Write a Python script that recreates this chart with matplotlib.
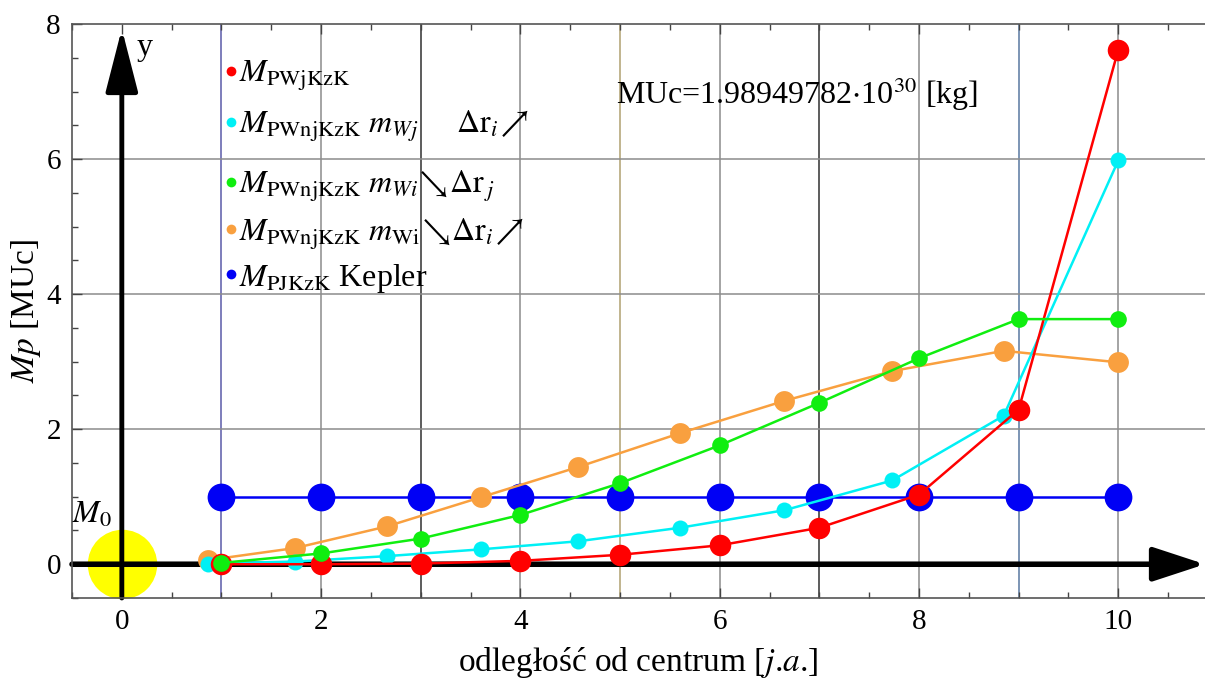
import matplotlib
matplotlib.use("Agg")
import matplotlib.pyplot as plt
from matplotlib.ticker import MultipleLocator

plt.rcParams['font.family'] = ['Liberation Serif', 'DejaVu Serif']
plt.rcParams['mathtext.fontset'] = 'stix'

# ---- data ----
x_int = [1, 2, 3, 4, 5, 6, 7, 8, 9, 10]
x_shift = [0.86, 1.74, 2.66, 3.60, 4.58, 5.60, 6.65, 7.73, 8.85, 10.0]

red_y = [0.0, 0.0, 0.01, 0.05, 0.14, 0.28, 0.54, 1.03, 2.29, 7.62]
cyan_y = [0.01, 0.04, 0.12, 0.22, 0.34, 0.54, 0.80, 1.24, 2.20, 5.98]
green_y = [0.02, 0.16, 0.38, 0.73, 1.20, 1.76, 2.39, 3.05, 3.63, 3.63]
orange_y = [0.06, 0.24, 0.56, 0.99, 1.44, 1.94, 2.42, 2.86, 3.16, 2.99]
blue_y = [1, 1, 1, 1, 1, 1, 1, 1, 1, 1]

legend_labels = [
    r'$M_{\mathrm{PWjKzK}}$',
    r'$M_{\mathrm{PWnjKzK}}\ m_{Wj}\ \ \ \ \ \Delta\mathrm{r}_{i}\!\nearrow$',
    r'$M_{\mathrm{PWnjKzK}}\ m_{Wi}\!\searrow\!\Delta\mathrm{r}_{\,j}$',
    r'$M_{\mathrm{PWnjKzK}}\ m_{\mathrm{Wi}}\!\searrow\!\Delta\mathrm{r}_{i}\!\nearrow$',
    r'$M_{\mathrm{PJKzK}}$ Kepler',
]

x_ticks = [0, 2, 4, 6, 8, 10]
y_ticks = [0, 2, 4, 6, 8]
grid_x = [1, 2, 3, 4, 5, 6, 7, 8, 9, 10]
grid_x_colors = ['#5a5aa8', '#8c8c8c', '#303030', '#8c8c8c', '#b0a070',
                 '#8c8c8c', '#303030', '#8c8c8c', '#5878a0', '#8c8c8c']
grid_y = [2, 4, 6]

C_RED = '#ff0000'
C_CYAN = '#00f0f5'
C_GREEN = '#10ee10'
C_ORANGE = '#f9a03f'
C_BLUE = '#0000f5'

fig = plt.figure(figsize=(12.05, 6.8), dpi=100)
ax = fig.add_axes([72 / 1205, 82 / 680, 1 - 72 / 1205, 574 / 680])
ax.set_xlim(-0.5, 10.87)
ax.set_ylim(-0.5, 8.0)

# grid
for gx, gc in zip(grid_x, grid_x_colors):
    ax.axvline(gx, color=gc, lw=1.1, zorder=1)
for gy in grid_y:
    ax.axhline(gy, color='#8c8c8c', lw=1.1, zorder=1)

# axes arrows
ax.annotate('', xy=(10.87, 0), xytext=(-0.5, 0),
            arrowprops=dict(arrowstyle='-|>,head_length=3.2,head_width=1.05',
                            lw=4, color='black', shrinkA=0, shrinkB=0), zorder=2)
ax.annotate('', xy=(0, 7.93), xytext=(0, -0.5),
            arrowprops=dict(arrowstyle='-|>,head_length=3.9,head_width=1.0',
                            lw=3.5, color='black', shrinkA=0, shrinkB=0), zorder=2)

# sun M0
ax.plot([0], [0], 'o', color='#ffff00', ms=50, mec='none', zorder=1.5)
ax.text(-0.5, 0.72, r'$M_0$', fontsize=23, ha='left', va='center')
ax.text(0.15, 7.65, 'y', fontsize=23, ha='left', va='center')

# series
ax.plot(x_int, blue_y, '-o', color=C_BLUE, lw=1.8, ms=20, mec='none', zorder=3)
ax.plot(x_shift, orange_y, '-o', color=C_ORANGE, lw=1.8, ms=15, mec='none', zorder=4)
ax.plot(x_shift, cyan_y, '-o', color=C_CYAN, lw=1.8, ms=11.5, mec='none', zorder=5)
ax.plot(x_int, red_y, '-o', color=C_RED, lw=1.8, ms=15.5, mec='none', zorder=6)
ax.plot(x_int, green_y, '-o', color=C_GREEN, lw=1.8, ms=12, mec='none', zorder=7)

# custom legend
leg_colors = [C_RED, C_CYAN, C_GREEN, C_ORANGE, C_BLUE]
leg_y = [7.30, 6.55, 5.66, 4.96, 4.30]
for lab, col, ly in zip(legend_labels, leg_colors, leg_y):
    ax.plot([1.10], [ly], 'o', color=col, ms=7, mec='none', zorder=8)
    ax.text(1.18, ly - 0.07, lab, fontsize=23, ha='left', va='center', zorder=8)

ax.text(4.96, 6.96, r'MUc=1.98949782$\cdot$10$^{30}$ [kg]', fontsize=23,
        ha='left', va='center', zorder=8)

# ticks & spines
ax.set_xticks(x_ticks)
ax.set_yticks(y_ticks)
ax.xaxis.set_minor_locator(MultipleLocator(0.5))
ax.yaxis.set_minor_locator(MultipleLocator(0.5))
ax.tick_params(which='both', direction='in', top=True, right=False,
               color='#444444', labelsize=21, width=1)
ax.tick_params(which='major', length=7, pad=8)
ax.tick_params(which='minor', length=4)
ax.spines['right'].set_visible(False)
for s in ['left', 'bottom', 'top']:
    ax.spines[s].set_color('#555555')
    ax.spines[s].set_linewidth(1.2)

ax.set_xlabel(r'odległość od centrum [$j$.$a$.]', fontsize=24, labelpad=7)
ax.set_ylabel(r'$Mp$ [MUc]', fontsize=24, labelpad=2)

fig.savefig('out.png', dpi=100)
